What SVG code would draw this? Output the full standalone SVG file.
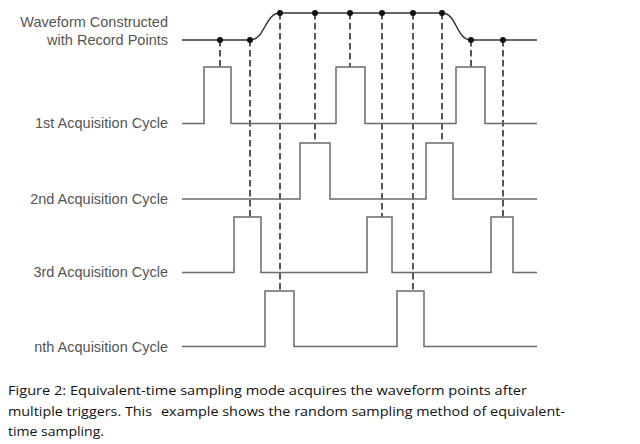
<svg xmlns="http://www.w3.org/2000/svg" width="640" height="444" viewBox="0 0 640 444">
<style>
.lbl{font-family:"Liberation Sans",Arial,sans-serif;font-size:14.5px;fill:#555;text-anchor:end}
.sig{fill:none;stroke:#6a6a6a;stroke-width:1.5}
.wave{fill:none;stroke:#333;stroke-width:1.5}
.dash{fill:none;stroke:#111;stroke-width:1.4;stroke-dasharray:6.5,3.5}
.dot{fill:#111}
.cap{font-family:"Open Sans","Noto Sans",sans-serif;font-size:13.5px;fill:#111}
</style>
<rect width="640" height="444" fill="#fff"/>
<g id="connectors">
<line class="dash" x1="220" y1="40" x2="220" y2="67"/>
<line class="dash" x1="250" y1="40" x2="250" y2="217"/>
<line class="dash" x1="280" y1="13" x2="280" y2="291"/>
<line class="dash" x1="315" y1="13" x2="315" y2="143"/>
<line class="dash" x1="350" y1="13" x2="350" y2="67"/>
<line class="dash" x1="382" y1="13" x2="382" y2="217"/>
<line class="dash" x1="413" y1="13" x2="413" y2="291"/>
<line class="dash" x1="442" y1="13" x2="442" y2="143"/>
<line class="dash" x1="471" y1="40" x2="471" y2="67"/>
<line class="dash" x1="503" y1="40" x2="503" y2="217"/>
</g>
<g id="waveform">
<text class="lbl" x="168" y="26.5">Waveform Constructed</text>
<text class="lbl" x="168" y="45">with Record Points</text>
<path class="wave" d="M182,40 H250 C265,40 265,13 280,13 H442 C457,13 456,40 471,40 H537"/>
<circle class="dot" cx="220" cy="40" r="3"/>
<circle class="dot" cx="250" cy="40" r="3"/>
<circle class="dot" cx="280" cy="13" r="3"/>
<circle class="dot" cx="315" cy="13" r="3"/>
<circle class="dot" cx="350" cy="13" r="3"/>
<circle class="dot" cx="382" cy="13" r="3"/>
<circle class="dot" cx="413" cy="13" r="3"/>
<circle class="dot" cx="442" cy="13" r="3"/>
<circle class="dot" cx="471" cy="40" r="3"/>
<circle class="dot" cx="503" cy="40" r="3"/>
</g>
<g id="cycle1">
<text class="lbl" x="168" y="128">1st Acquisition Cycle</text>
<path class="sig" d="M182,123.5 H204 V67 H231 V123.5 H336 V67 H365 V123.5 H456 V67 H485 V123.5 H537"/>
</g>
<g id="cycle2">
<text class="lbl" x="168" y="203.5">2nd Acquisition Cycle</text>
<path class="sig" d="M182,199 H300 V143 H330 V199 H426 V143 H453 V199 H537"/>
</g>
<g id="cycle3">
<text class="lbl" x="168" y="277">3rd Acquisition Cycle</text>
<path class="sig" d="M182,272.5 H234 V217 H261 V272.5 H367 V217 H392 V272.5 H491 V217 H513 V272.5 H537"/>
</g>
<g id="cyclen">
<text class="lbl" x="168" y="351.5">nth Acquisition Cycle</text>
<path class="sig" d="M182,346.5 H265 V291 H294 V346.5 H397 V291 H424 V346.5 H537"/>
</g>
<g id="caption">
<text class="cap" x="8" y="395" textLength="519" lengthAdjust="spacingAndGlyphs">Figure 2: Equivalent-time sampling mode acquires the waveform points after</text>
<text class="cap" x="8" y="415.5" textLength="144" lengthAdjust="spacingAndGlyphs">multiple triggers. This</text>
<text class="cap" x="161" y="415.5" textLength="404" lengthAdjust="spacingAndGlyphs">example shows the random sampling method of equivalent-</text>
<text class="cap" x="8" y="435.5" textLength="96" lengthAdjust="spacingAndGlyphs">time sampling.</text>
</g>
</svg>
